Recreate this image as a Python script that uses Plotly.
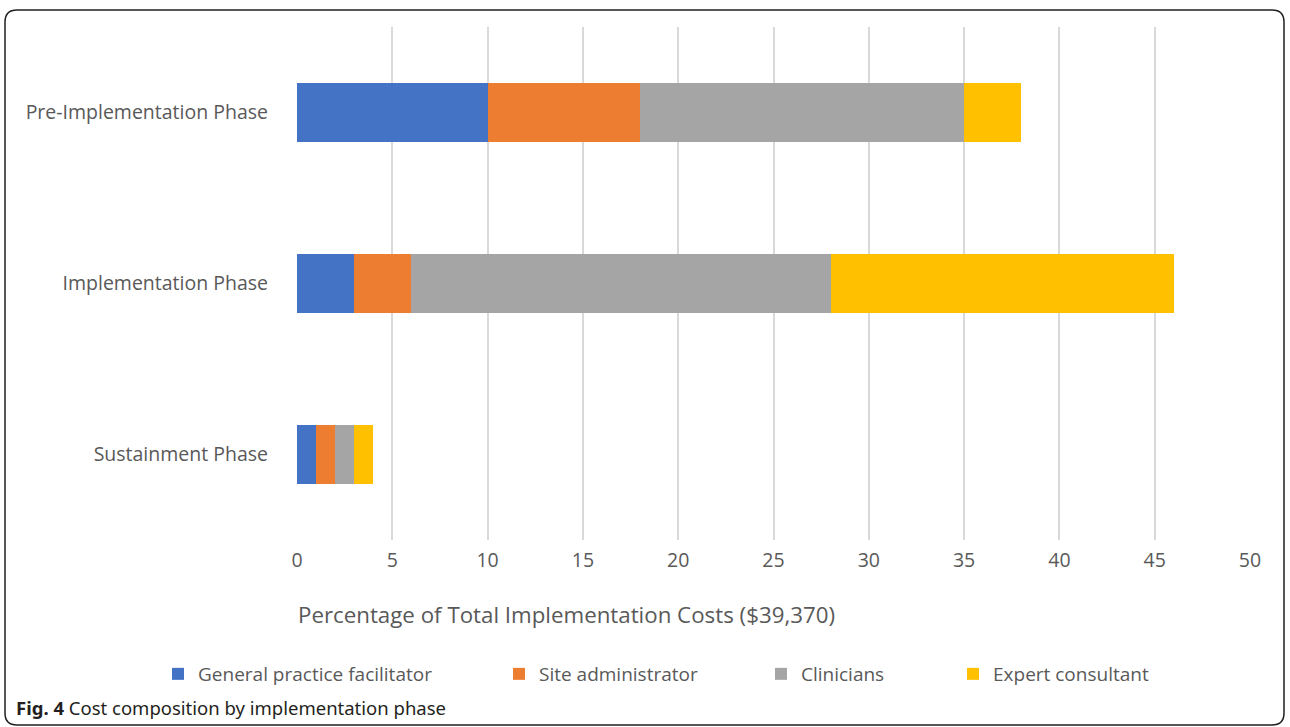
import plotly.graph_objects as go

phases = ["Pre-Implementation Phase", "Implementation Phase", "Sustainment Phase"]
series_names = ["General practice facilitator", "Site administrator", "Clinicians", "Expert consultant"]
gp_facilitator = [10, 3, 1]
site_admin = [8, 3, 1]
clinicians = [17, 22, 1]
expert = [3, 18, 1]
x_ticks = [0, 5, 10, 15, 20, 25, 30, 35, 40, 45, 50]
colors = ["#4472C4", "#ED7D31", "#A5A5A5", "#FFC000"]

W, H = 1290, 727
L, R, T, B = 297, 1250, 27, 540

def px(x):
    return (x - L) / (R - L)

def py(y):
    return (B - y) / (B - T)

fig = go.Figure()
values = [gp_facilitator, site_admin, clinicians, expert]
legend_x = [158, 499, 761, 953]
for i, (name, vals) in enumerate(zip(series_names, values)):
    fig.add_trace(go.Bar(
        y=phases, x=vals, name=name, orientation="h",
        marker=dict(color=colors[i], line=dict(width=0)),
        legend="legend" if i == 0 else f"legend{i+1}",
    ))

font_family = "Open Sans, Lato, sans-serif"
text_color = "#595959"

layout_legends = {}
for i in range(4):
    key = "legend" if i == 0 else f"legend{i+1}"
    layout_legends[key] = dict(
        x=px(legend_x[i]), y=py(674), xanchor="left", yanchor="middle",
        orientation="h", font=dict(family=font_family, size=19, color=text_color),
        bgcolor="rgba(0,0,0,0)", itemwidth=30, tracegroupgap=0,
    )

fig.update_layout(
    width=W, height=H,
    margin=dict(l=L, r=W - R, t=T, b=H - B),
    paper_bgcolor="white", plot_bgcolor="white",
    barmode="stack", bargap=0.66,
    showlegend=True,
    font=dict(family=font_family, color=text_color, size=16),
    xaxis=dict(
        range=[0, 50], tickvals=x_ticks, showgrid=True, gridcolor="#D9D9D9", gridwidth=1.5,
        zeroline=False, showline=False, ticks="", ticklabelstandoff=6,
        tickfont=dict(size=19.5, color=text_color),
    ),
    yaxis=dict(
        autorange="reversed", showgrid=False, zeroline=False, showline=False,
        ticks="", ticklabelstandoff=28, tickfont=dict(size=19.5, color=text_color),
    ),
    **layout_legends,
)

fig.add_annotation(
    x=px(296), y=py(614), xref="paper", yref="paper", xanchor="left", yanchor="middle",
    text="Percentage of Total Implementation Costs ($39,370)", showarrow=False,
    font=dict(family=font_family, size=22.3, color=text_color),
)
fig.add_annotation(
    x=px(14), y=py(707), xref="paper", yref="paper", xanchor="left", yanchor="middle",
    text="<b>Fig. 4</b> Cost composition by implementation phase", showarrow=False,
    font=dict(family="Noto Sans, sans-serif", size=18.5, color="#231F20"),
)

# rounded border
x0, x1, y0, y1 = px(5), px(1284), py(10), py(725)
rx = 12 / (R - L)
ry = 12 / (B - T)
path = (f"M {x0+rx},{y0} L {x1-rx},{y0} Q {x1},{y0} {x1},{y0-ry} "
        f"L {x1},{y1+ry} Q {x1},{y1} {x1-rx},{y1} L {x0+rx},{y1} Q {x0},{y1} {x0},{y1+ry} "
        f"L {x0},{y0-ry} Q {x0},{y0} {x0+rx},{y0} Z")
fig.add_shape(type="path", path=path, xref="paper", yref="paper",
              line=dict(color="#231F20", width=1.5), layer="above")

fig.write_html("out.html")
